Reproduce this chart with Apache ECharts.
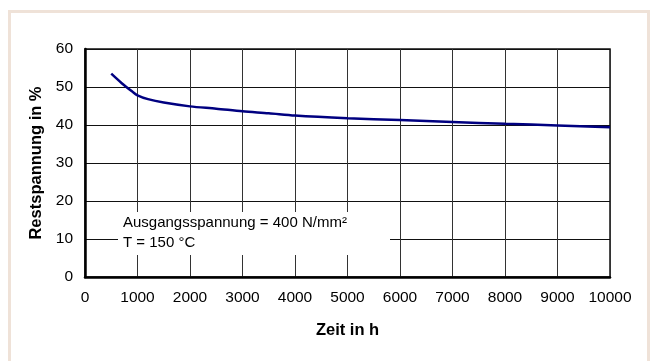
<!DOCTYPE html>
<html>
<head>
<meta charset="utf-8">
<script src="https://cdn.jsdelivr.net/npm/echarts@6/dist/echarts.min.js"></script>
<style>
  html, body { margin: 0; padding: 0; background: #fff; }
  #chart { width: 651px; height: 361px; }
</style>
</head>
<body>
<div id="chart"></div>
<script>
// Relaxation curve: residual stress vs. time
const zeitH = [500, 700, 900, 1000, 1200, 1500, 2000, 2500, 3000, 3500, 4000, 5000, 6000, 7000, 8000, 9000, 10000];
const restspannung = [53.5, 51.0, 48.8, 47.8, 46.8, 45.9, 44.9, 44.3, 43.6, 43.1, 42.5, 41.8, 41.3, 40.8, 40.3, 39.9, 39.4];
const noteLines = ['Ausgangsspannung = 400 N/mm²', 'T = 150 °C'];

const chart = echarts.init(document.getElementById('chart'), null, { renderer: 'canvas' });
const FONT = 'Liberation Sans, Arial, sans-serif';

chart.setOption({
  animation: false,
  backgroundColor: '#ffffff',
  grid: {
    left: 85, top: 49, right: 41, bottom: 84,
    show: true, borderColor: '#111', borderWidth: 1.5, backgroundColor: 'transparent'
  },
  xAxis: {
    type: 'value', min: 0, max: 10000, interval: 1000,
    name: 'Zeit in h', nameLocation: 'middle', nameGap: 45,
    nameTextStyle: { fontFamily: FONT, fontSize: 16.5, fontWeight: 'bold', color: '#000' },
    axisLine: { show: true, onZero: false, lineStyle: { color: '#000', width: 2.5 } },
    axisTick: { show: false },
    axisLabel: { fontFamily: FONT, fontSize: 15.5, color: '#000', margin: 13, formatter: v => String(v) },
    splitLine: { show: true, lineStyle: { color: '#333', width: 1 } }
  },
  yAxis: {
    type: 'value', min: 0, max: 60, interval: 10,
    name: 'Restspannung in %', nameLocation: 'middle', nameGap: 39, nameRotate: 90,
    nameTextStyle: { fontFamily: FONT, fontSize: 16.5, fontWeight: 'bold', color: '#000' },
    axisLine: { show: true, lineStyle: { color: '#000', width: 2.5 } },
    axisTick: { show: false },
    axisLabel: { fontFamily: FONT, fontSize: 15.5, color: '#000', margin: 12 },
    splitLine: { show: true, lineStyle: { color: '#111', width: 1 } }
  },
  series: [{
    type: 'line',
    data: zeitH.map((t, i) => [t, restspannung[i]]),
    smooth: 0.3,
    showSymbol: false,
    lineStyle: { color: '#000080', width: 2.5 },
    z: 5
  }],
  graphic: [
    // light outer frame
    { type: 'rect', shape: { x: 9.5, y: 11.5, width: 639, height: 380 },
      style: { fill: null, stroke: '#efe2d8', lineWidth: 3 }, z: 0 },
    // white panel behind the test conditions
    { type: 'rect', shape: { x: 118, y: 212, width: 272, height: 43 },
      style: { fill: '#ffffff' }, z: 10 },
    { type: 'text', left: 123, top: 213, z: 11,
      style: { text: noteLines.join('\n'), font: '15px ' + FONT, fill: '#000', lineHeight: 20 } }
  ]
});
</script>
</body>
</html>
